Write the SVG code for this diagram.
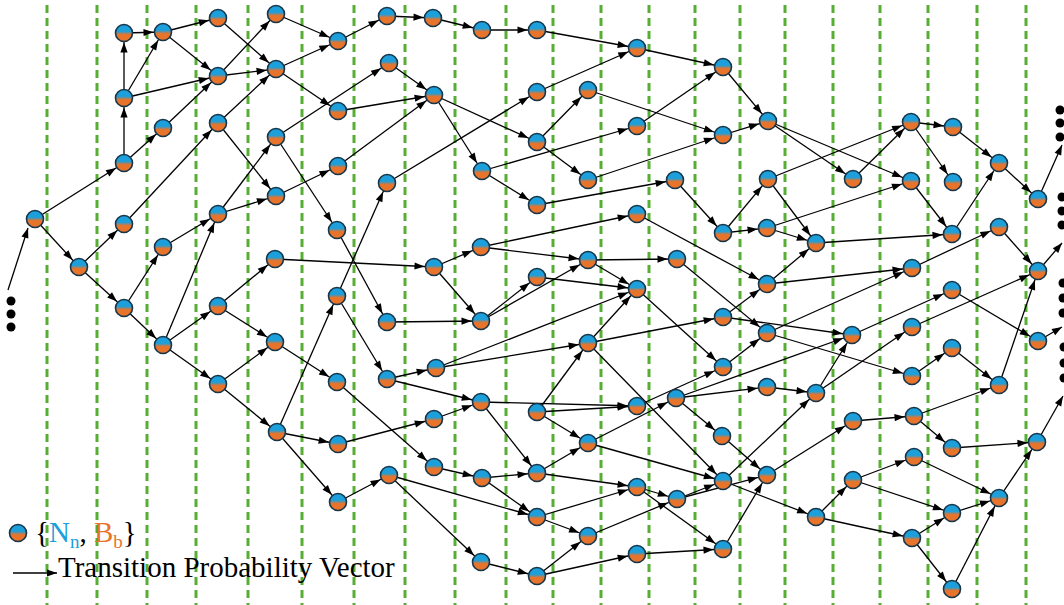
<svg xmlns="http://www.w3.org/2000/svg" width="1064" height="605" viewBox="0 0 1064 605">
<style>
.grid line{stroke:#56ae34;stroke-width:3;stroke-dasharray:8 5}
.edges line{stroke:#000;stroke-width:1.3;marker-end:url(#a)}
.edges line.o{marker-end:url(#b)}
.node circle{fill:url(#g);stroke:#17364a;stroke-width:1.6}
.dot{fill:#000}
.lbl{font-family:"Liberation Serif","Times New Roman",serif;font-size:29px;fill:#000}
</style>
<defs>
<linearGradient id="g" x1="0" y1="0" x2="0" y2="1">
<stop offset="0" stop-color="#1c9fda"/><stop offset="0.4" stop-color="#1c9fda"/><stop offset="0.6" stop-color="#e8742c"/><stop offset="1" stop-color="#e8742c"/>
</linearGradient>
<marker id="a" markerUnits="userSpaceOnUse" viewBox="0 -5 22 10" markerWidth="22" markerHeight="10" refX="19.5" refY="0" orient="auto" overflow="visible"><path d="M0,-3.6 L10,0 L0,3.6 z" fill="#000"/></marker>
<marker id="b" markerUnits="userSpaceOnUse" viewBox="0 -5 22 10" markerWidth="22" markerHeight="10" refX="10" refY="0" orient="auto" overflow="visible"><path d="M0,-3.6 L10,0 L0,3.6 z" fill="#000"/></marker>
</defs>
<rect width="1064" height="605" fill="#fff"/>
<g class="grid">
<line x1="47" y1="5" x2="47" y2="605"/><line x1="97" y1="5" x2="97" y2="605"/><line x1="147" y1="5" x2="147" y2="605"/><line x1="196" y1="5" x2="196" y2="605"/><line x1="248" y1="5" x2="248" y2="605"/><line x1="302" y1="5" x2="302" y2="605"/><line x1="354" y1="5" x2="354" y2="605"/><line x1="405" y1="5" x2="405" y2="605"/><line x1="455" y1="5" x2="455" y2="605"/><line x1="506" y1="5" x2="506" y2="605"/><line x1="553" y1="5" x2="553" y2="605"/><line x1="601" y1="5" x2="601" y2="605"/><line x1="649" y1="5" x2="649" y2="605"/><line x1="695" y1="5" x2="695" y2="605"/><line x1="740" y1="5" x2="740" y2="605"/><line x1="785" y1="5" x2="785" y2="605"/><line x1="833" y1="5" x2="833" y2="605"/><line x1="880" y1="5" x2="880" y2="605"/><line x1="928" y1="5" x2="928" y2="605"/><line x1="977" y1="5" x2="977" y2="605"/><line x1="1026" y1="5" x2="1026" y2="605"/>
</g>
<g id="connectors" class="edges">
<line class="o" x1="8" y1="290" x2="28" y2="228"/>
<line x1="35" y1="219" x2="124" y2="163"/><line x1="35" y1="219" x2="79" y2="267"/>
<line x1="79" y1="267" x2="124" y2="224"/><line x1="79" y1="267" x2="124" y2="308"/>
<line x1="124" y1="33" x2="163" y2="32"/>
<line x1="124" y1="98" x2="124" y2="33"/><line x1="124" y1="98" x2="163" y2="32"/><line x1="124" y1="98" x2="218" y2="76"/>
<line x1="124" y1="163" x2="124" y2="98"/><line x1="124" y1="163" x2="163" y2="128"/>
<line x1="124" y1="224" x2="218" y2="123"/>
<line x1="124" y1="308" x2="163" y2="247"/><line x1="124" y1="308" x2="163" y2="345"/>
<line x1="163" y1="32" x2="218" y2="18"/><line x1="163" y1="32" x2="218" y2="76"/>
<line x1="163" y1="128" x2="218" y2="76"/>
<line x1="163" y1="247" x2="218" y2="214"/>
<line x1="163" y1="345" x2="218" y2="214"/><line x1="163" y1="345" x2="218" y2="306"/><line x1="163" y1="345" x2="218" y2="384"/>
<line x1="218" y1="18" x2="276" y2="69"/>
<line x1="218" y1="76" x2="276" y2="14"/><line x1="218" y1="76" x2="276" y2="69"/>
<line x1="218" y1="123" x2="276" y2="69"/><line x1="218" y1="123" x2="276" y2="196"/>
<line x1="218" y1="214" x2="276" y2="196"/><line x1="218" y1="214" x2="276" y2="137"/>
<line x1="218" y1="306" x2="275" y2="259"/><line x1="218" y1="306" x2="275" y2="342"/>
<line x1="218" y1="384" x2="275" y2="342"/><line x1="218" y1="384" x2="277" y2="432"/>
<line x1="276" y1="14" x2="338" y2="41"/>
<line x1="276" y1="69" x2="338" y2="41"/><line x1="276" y1="69" x2="338" y2="111"/>
<line x1="276" y1="137" x2="389" y2="63"/><line x1="276" y1="137" x2="337" y2="230"/>
<line x1="276" y1="196" x2="338" y2="166"/>
<line x1="275" y1="259" x2="434" y2="267"/>
<line x1="275" y1="342" x2="337" y2="382"/>
<line x1="277" y1="432" x2="338" y2="444"/><line x1="277" y1="432" x2="338" y2="502"/><line x1="277" y1="432" x2="337" y2="296"/>
<line x1="338" y1="41" x2="387" y2="16"/>
<line x1="338" y1="111" x2="434" y2="95"/>
<line x1="338" y1="166" x2="434" y2="95"/>
<line x1="337" y1="230" x2="387" y2="322"/>
<line x1="337" y1="296" x2="387" y2="183"/><line x1="337" y1="296" x2="387" y2="379"/>
<line x1="337" y1="382" x2="434" y2="467"/>
<line x1="338" y1="444" x2="434" y2="419"/>
<line x1="338" y1="502" x2="389" y2="475"/>
<line x1="387" y1="16" x2="433" y2="18"/>
<line x1="389" y1="63" x2="434" y2="95"/>
<line x1="387" y1="183" x2="537" y2="92"/>
<line x1="387" y1="322" x2="481" y2="321"/>
<line x1="387" y1="379" x2="436" y2="368"/><line x1="387" y1="379" x2="481" y2="402"/>
<line x1="389" y1="475" x2="537" y2="517"/><line x1="389" y1="475" x2="481" y2="562"/>
<line x1="433" y1="18" x2="482" y2="30"/>
<line x1="434" y1="95" x2="482" y2="171"/><line x1="434" y1="95" x2="537" y2="142"/>
<line x1="434" y1="267" x2="481" y2="247"/><line x1="434" y1="267" x2="481" y2="321"/>
<line x1="436" y1="368" x2="637" y2="289"/><line x1="436" y1="368" x2="588" y2="343"/>
<line x1="434" y1="419" x2="481" y2="402"/>
<line x1="434" y1="467" x2="482" y2="478"/>
<line x1="482" y1="30" x2="537" y2="30"/>
<line x1="482" y1="171" x2="637" y2="126"/><line x1="482" y1="171" x2="537" y2="205"/>
<line x1="481" y1="247" x2="637" y2="214"/><line x1="481" y1="247" x2="588" y2="260"/>
<line x1="481" y1="321" x2="537" y2="277"/><line x1="481" y1="321" x2="588" y2="260"/>
<line x1="481" y1="402" x2="537" y2="473"/><line x1="481" y1="402" x2="637" y2="406"/>
<line x1="482" y1="478" x2="537" y2="473"/><line x1="482" y1="478" x2="537" y2="517"/>
<line x1="481" y1="562" x2="537" y2="576"/>
<line x1="537" y1="30" x2="637" y2="48"/>
<line x1="537" y1="92" x2="637" y2="48"/>
<line x1="537" y1="142" x2="588" y2="90"/><line x1="537" y1="142" x2="588" y2="180"/>
<line x1="537" y1="205" x2="675" y2="180"/>
<line x1="537" y1="277" x2="637" y2="289"/>
<line x1="537" y1="412" x2="637" y2="406"/><line x1="537" y1="412" x2="588" y2="443"/><line x1="537" y1="412" x2="588" y2="343"/>
<line x1="537" y1="473" x2="637" y2="487"/><line x1="537" y1="473" x2="588" y2="443"/>
<line x1="537" y1="517" x2="637" y2="487"/><line x1="537" y1="517" x2="588" y2="536"/>
<line x1="537" y1="576" x2="588" y2="536"/><line x1="537" y1="576" x2="637" y2="554"/>
<line x1="588" y1="90" x2="723" y2="135"/>
<line x1="588" y1="180" x2="723" y2="135"/>
<line x1="588" y1="260" x2="677" y2="259"/><line x1="588" y1="260" x2="637" y2="289"/>
<line x1="588" y1="343" x2="637" y2="289"/><line x1="588" y1="343" x2="723" y2="317"/><line x1="588" y1="343" x2="723" y2="481"/>
<line x1="588" y1="443" x2="676" y2="398"/><line x1="588" y1="443" x2="723" y2="481"/>
<line x1="588" y1="536" x2="677" y2="499"/>
<line x1="637" y1="48" x2="723" y2="67"/>
<line x1="637" y1="126" x2="723" y2="67"/>
<line x1="637" y1="214" x2="767" y2="284"/>
<line x1="637" y1="289" x2="723" y2="367"/>
<line x1="637" y1="406" x2="723" y2="367"/>
<line x1="637" y1="487" x2="677" y2="499"/><line x1="637" y1="487" x2="723" y2="549"/>
<line x1="637" y1="554" x2="723" y2="549"/>
<line x1="675" y1="180" x2="723" y2="233"/>
<line x1="677" y1="259" x2="767" y2="333"/>
<line x1="676" y1="398" x2="722" y2="436"/><line x1="676" y1="398" x2="767" y2="387"/><line x1="676" y1="398" x2="852" y2="335"/>
<line x1="677" y1="499" x2="723" y2="481"/><line x1="677" y1="499" x2="767" y2="475"/>
<line x1="723" y1="67" x2="768" y2="121"/>
<line x1="723" y1="135" x2="768" y2="121"/>
<line x1="723" y1="233" x2="767" y2="228"/><line x1="723" y1="233" x2="768" y2="179"/>
<line x1="723" y1="317" x2="767" y2="284"/><line x1="723" y1="317" x2="852" y2="335"/>
<line x1="723" y1="367" x2="767" y2="333"/>
<line x1="722" y1="436" x2="767" y2="475"/>
<line x1="723" y1="481" x2="816" y2="393"/><line x1="723" y1="481" x2="816" y2="517"/>
<line x1="723" y1="549" x2="767" y2="475"/>
<line x1="768" y1="121" x2="853" y2="179"/><line x1="768" y1="121" x2="911" y2="181"/>
<line x1="768" y1="179" x2="816" y2="243"/><line x1="768" y1="179" x2="911" y2="122"/>
<line x1="767" y1="228" x2="911" y2="181"/><line x1="767" y1="228" x2="816" y2="243"/>
<line x1="767" y1="284" x2="816" y2="243"/><line x1="767" y1="284" x2="912" y2="268"/>
<line x1="767" y1="333" x2="912" y2="268"/><line x1="767" y1="333" x2="912" y2="376"/>
<line x1="767" y1="387" x2="816" y2="393"/>
<line x1="767" y1="475" x2="853" y2="421"/>
<line x1="816" y1="243" x2="952" y2="234"/>
<line x1="816" y1="393" x2="852" y2="335"/><line x1="816" y1="393" x2="912" y2="327"/>
<line x1="816" y1="517" x2="853" y2="480"/><line x1="816" y1="517" x2="912" y2="538"/>
<line x1="853" y1="179" x2="911" y2="122"/>
<line x1="852" y1="335" x2="952" y2="290"/>
<line x1="853" y1="421" x2="914" y2="416"/>
<line x1="853" y1="480" x2="914" y2="457"/><line x1="853" y1="480" x2="952" y2="513"/>
<line x1="911" y1="122" x2="953" y2="127"/><line x1="911" y1="122" x2="953" y2="182"/>
<line x1="911" y1="181" x2="952" y2="234"/>
<line x1="912" y1="268" x2="999" y2="227"/>
<line x1="912" y1="327" x2="1038" y2="271"/>
<line x1="912" y1="376" x2="952" y2="348"/>
<line x1="914" y1="416" x2="952" y2="448"/><line x1="914" y1="416" x2="999" y2="385"/>
<line x1="914" y1="457" x2="999" y2="498"/>
<line x1="912" y1="538" x2="952" y2="513"/><line x1="912" y1="538" x2="952" y2="589"/>
<line x1="953" y1="127" x2="999" y2="163"/>
<line x1="952" y1="234" x2="999" y2="163"/>
<line x1="952" y1="290" x2="1038" y2="341"/>
<line x1="952" y1="348" x2="999" y2="385"/>
<line x1="952" y1="448" x2="1037" y2="442"/>
<line x1="952" y1="513" x2="999" y2="498"/>
<line x1="952" y1="589" x2="999" y2="498"/>
<line x1="999" y1="163" x2="1038" y2="199"/>
<line x1="999" y1="227" x2="1038" y2="271"/>
<line x1="999" y1="385" x2="1038" y2="271"/>
<line x1="999" y1="498" x2="1037" y2="442"/>
<line class="o" x1="1038" y1="199" x2="1062" y2="145"/>
<line class="o" x1="1038" y1="271" x2="1062" y2="243"/>
<line class="o" x1="1038" y1="341" x2="1062" y2="327"/>
<line class="o" x1="1037" y1="442" x2="1063" y2="396"/>
</g>
<g id="ellipsis-left"><circle class="dot" cx="11" cy="301" r="4.5"/><circle class="dot" cx="11" cy="314" r="4.5"/><circle class="dot" cx="11" cy="327" r="4.5"/></g>
<g id="ellipsis-right">
<circle class="dot" cx="1060" cy="110" r="4.5"/><circle class="dot" cx="1060" cy="123" r="4.5"/><circle class="dot" cx="1060" cy="137" r="4.5"/>
<circle class="dot" cx="1062" cy="197" r="4.5"/><circle class="dot" cx="1062" cy="211" r="4.5"/><circle class="dot" cx="1062" cy="225" r="4.5"/>
<circle class="dot" cx="1063" cy="283" r="4.5"/><circle class="dot" cx="1063" cy="298" r="4.5"/><circle class="dot" cx="1063" cy="313" r="4.5"/>
<circle class="dot" cx="1064" cy="347" r="4.5"/><circle class="dot" cx="1064" cy="363" r="4.5"/><circle class="dot" cx="1064" cy="378" r="4.5"/>
</g>
<g id="nodes">
<g id="n01" class="node"><circle cx="35" cy="219" r="8.5"/></g>
<g id="n02" class="node"><circle cx="79" cy="267" r="8.5"/></g>
<g id="n03" class="node"><circle cx="124" cy="33" r="8.5"/></g>
<g id="n04" class="node"><circle cx="124" cy="98" r="8.5"/></g>
<g id="n05" class="node"><circle cx="124" cy="163" r="8.5"/></g>
<g id="n06" class="node"><circle cx="124" cy="224" r="8.5"/></g>
<g id="n07" class="node"><circle cx="124" cy="308" r="8.5"/></g>
<g id="n08" class="node"><circle cx="163" cy="32" r="8.5"/></g>
<g id="n09" class="node"><circle cx="163" cy="128" r="8.5"/></g>
<g id="n10" class="node"><circle cx="163" cy="247" r="8.5"/></g>
<g id="n11" class="node"><circle cx="163" cy="345" r="8.5"/></g>
<g id="n12" class="node"><circle cx="218" cy="18" r="8.5"/></g>
<g id="n13" class="node"><circle cx="218" cy="76" r="8.5"/></g>
<g id="n14" class="node"><circle cx="218" cy="123" r="8.5"/></g>
<g id="n15" class="node"><circle cx="218" cy="214" r="8.5"/></g>
<g id="n16" class="node"><circle cx="218" cy="306" r="8.5"/></g>
<g id="n17" class="node"><circle cx="218" cy="384" r="8.5"/></g>
<g id="n18" class="node"><circle cx="276" cy="14" r="8.5"/></g>
<g id="n19" class="node"><circle cx="276" cy="69" r="8.5"/></g>
<g id="n20" class="node"><circle cx="276" cy="137" r="8.5"/></g>
<g id="n21" class="node"><circle cx="276" cy="196" r="8.5"/></g>
<g id="n22" class="node"><circle cx="275" cy="259" r="8.5"/></g>
<g id="n23" class="node"><circle cx="275" cy="342" r="8.5"/></g>
<g id="n24" class="node"><circle cx="277" cy="432" r="8.5"/></g>
<g id="n25" class="node"><circle cx="338" cy="41" r="8.5"/></g>
<g id="n26" class="node"><circle cx="338" cy="111" r="8.5"/></g>
<g id="n27" class="node"><circle cx="338" cy="166" r="8.5"/></g>
<g id="n28" class="node"><circle cx="337" cy="230" r="8.5"/></g>
<g id="n29" class="node"><circle cx="337" cy="296" r="8.5"/></g>
<g id="n30" class="node"><circle cx="337" cy="382" r="8.5"/></g>
<g id="n31" class="node"><circle cx="338" cy="444" r="8.5"/></g>
<g id="n32" class="node"><circle cx="338" cy="502" r="8.5"/></g>
<g id="n33" class="node"><circle cx="387" cy="16" r="8.5"/></g>
<g id="n34" class="node"><circle cx="389" cy="63" r="8.5"/></g>
<g id="n35" class="node"><circle cx="387" cy="183" r="8.5"/></g>
<g id="n36" class="node"><circle cx="387" cy="322" r="8.5"/></g>
<g id="n37" class="node"><circle cx="387" cy="379" r="8.5"/></g>
<g id="n38" class="node"><circle cx="389" cy="475" r="8.5"/></g>
<g id="n39" class="node"><circle cx="433" cy="18" r="8.5"/></g>
<g id="n40" class="node"><circle cx="434" cy="95" r="8.5"/></g>
<g id="n41" class="node"><circle cx="434" cy="267" r="8.5"/></g>
<g id="n42" class="node"><circle cx="436" cy="368" r="8.5"/></g>
<g id="n43" class="node"><circle cx="434" cy="419" r="8.5"/></g>
<g id="n44" class="node"><circle cx="434" cy="467" r="8.5"/></g>
<g id="n45" class="node"><circle cx="482" cy="30" r="8.5"/></g>
<g id="n46" class="node"><circle cx="482" cy="171" r="8.5"/></g>
<g id="n47" class="node"><circle cx="481" cy="247" r="8.5"/></g>
<g id="n48" class="node"><circle cx="481" cy="321" r="8.5"/></g>
<g id="n49" class="node"><circle cx="481" cy="402" r="8.5"/></g>
<g id="n50" class="node"><circle cx="482" cy="478" r="8.5"/></g>
<g id="n51" class="node"><circle cx="481" cy="562" r="8.5"/></g>
<g id="n52" class="node"><circle cx="537" cy="30" r="8.5"/></g>
<g id="n53" class="node"><circle cx="537" cy="92" r="8.5"/></g>
<g id="n54" class="node"><circle cx="537" cy="142" r="8.5"/></g>
<g id="n55" class="node"><circle cx="537" cy="205" r="8.5"/></g>
<g id="n56" class="node"><circle cx="537" cy="277" r="8.5"/></g>
<g id="n57" class="node"><circle cx="537" cy="412" r="8.5"/></g>
<g id="n58" class="node"><circle cx="537" cy="473" r="8.5"/></g>
<g id="n59" class="node"><circle cx="537" cy="517" r="8.5"/></g>
<g id="n60" class="node"><circle cx="537" cy="576" r="8.5"/></g>
<g id="n61" class="node"><circle cx="588" cy="90" r="8.5"/></g>
<g id="n62" class="node"><circle cx="588" cy="180" r="8.5"/></g>
<g id="n63" class="node"><circle cx="588" cy="260" r="8.5"/></g>
<g id="n64" class="node"><circle cx="588" cy="343" r="8.5"/></g>
<g id="n65" class="node"><circle cx="588" cy="443" r="8.5"/></g>
<g id="n66" class="node"><circle cx="588" cy="536" r="8.5"/></g>
<g id="n67" class="node"><circle cx="637" cy="48" r="8.5"/></g>
<g id="n68" class="node"><circle cx="637" cy="126" r="8.5"/></g>
<g id="n69" class="node"><circle cx="637" cy="214" r="8.5"/></g>
<g id="n70" class="node"><circle cx="637" cy="289" r="8.5"/></g>
<g id="n71" class="node"><circle cx="637" cy="406" r="8.5"/></g>
<g id="n72" class="node"><circle cx="637" cy="487" r="8.5"/></g>
<g id="n73" class="node"><circle cx="637" cy="554" r="8.5"/></g>
<g id="n74" class="node"><circle cx="675" cy="180" r="8.5"/></g>
<g id="n75" class="node"><circle cx="677" cy="259" r="8.5"/></g>
<g id="n76" class="node"><circle cx="676" cy="398" r="8.5"/></g>
<g id="n77" class="node"><circle cx="677" cy="499" r="8.5"/></g>
<g id="n78" class="node"><circle cx="723" cy="67" r="8.5"/></g>
<g id="n79" class="node"><circle cx="723" cy="135" r="8.5"/></g>
<g id="n80" class="node"><circle cx="723" cy="233" r="8.5"/></g>
<g id="n81" class="node"><circle cx="723" cy="317" r="8.5"/></g>
<g id="n82" class="node"><circle cx="723" cy="367" r="8.5"/></g>
<g id="n83" class="node"><circle cx="722" cy="436" r="8.5"/></g>
<g id="n84" class="node"><circle cx="723" cy="481" r="8.5"/></g>
<g id="n85" class="node"><circle cx="723" cy="549" r="8.5"/></g>
<g id="n86" class="node"><circle cx="768" cy="121" r="8.5"/></g>
<g id="n87" class="node"><circle cx="768" cy="179" r="8.5"/></g>
<g id="n88" class="node"><circle cx="767" cy="228" r="8.5"/></g>
<g id="n89" class="node"><circle cx="767" cy="284" r="8.5"/></g>
<g id="n90" class="node"><circle cx="767" cy="333" r="8.5"/></g>
<g id="n91" class="node"><circle cx="767" cy="387" r="8.5"/></g>
<g id="n92" class="node"><circle cx="767" cy="475" r="8.5"/></g>
<g id="n93" class="node"><circle cx="816" cy="243" r="8.5"/></g>
<g id="n94" class="node"><circle cx="816" cy="393" r="8.5"/></g>
<g id="n95" class="node"><circle cx="816" cy="517" r="8.5"/></g>
<g id="n96" class="node"><circle cx="853" cy="179" r="8.5"/></g>
<g id="n97" class="node"><circle cx="852" cy="335" r="8.5"/></g>
<g id="n98" class="node"><circle cx="853" cy="421" r="8.5"/></g>
<g id="n99" class="node"><circle cx="853" cy="480" r="8.5"/></g>
<g id="n100" class="node"><circle cx="911" cy="122" r="8.5"/></g>
<g id="n101" class="node"><circle cx="911" cy="181" r="8.5"/></g>
<g id="n102" class="node"><circle cx="912" cy="268" r="8.5"/></g>
<g id="n103" class="node"><circle cx="912" cy="327" r="8.5"/></g>
<g id="n104" class="node"><circle cx="912" cy="376" r="8.5"/></g>
<g id="n105" class="node"><circle cx="914" cy="416" r="8.5"/></g>
<g id="n106" class="node"><circle cx="914" cy="457" r="8.5"/></g>
<g id="n107" class="node"><circle cx="912" cy="538" r="8.5"/></g>
<g id="n108" class="node"><circle cx="953" cy="127" r="8.5"/></g>
<g id="n109" class="node"><circle cx="953" cy="182" r="8.5"/></g>
<g id="n110" class="node"><circle cx="952" cy="234" r="8.5"/></g>
<g id="n111" class="node"><circle cx="952" cy="290" r="8.5"/></g>
<g id="n112" class="node"><circle cx="952" cy="348" r="8.5"/></g>
<g id="n113" class="node"><circle cx="952" cy="448" r="8.5"/></g>
<g id="n114" class="node"><circle cx="952" cy="513" r="8.5"/></g>
<g id="n115" class="node"><circle cx="952" cy="589" r="8.5"/></g>
<g id="n116" class="node"><circle cx="999" cy="163" r="8.5"/></g>
<g id="n117" class="node"><circle cx="999" cy="227" r="8.5"/></g>
<g id="n118" class="node"><circle cx="999" cy="385" r="8.5"/></g>
<g id="n119" class="node"><circle cx="999" cy="498" r="8.5"/></g>
<g id="n120" class="node"><circle cx="1038" cy="199" r="8.5"/></g>
<g id="n121" class="node"><circle cx="1038" cy="271" r="8.5"/></g>
<g id="n122" class="node"><circle cx="1038" cy="341" r="8.5"/></g>
<g id="n123" class="node"><circle cx="1037" cy="442" r="8.5"/></g>
</g>
<g id="legend">
<g class="node"><circle cx="18" cy="533" r="8.5"/></g>
<text class="lbl" x="35" y="542">{<tspan fill="#1c9fda">N</tspan><tspan fill="#1c9fda" font-size="19" dy="6">n</tspan><tspan dy="-6">, </tspan><tspan fill="#e8742c">B</tspan><tspan fill="#e8742c" font-size="19" dy="6">b</tspan><tspan dy="-6">}</tspan></text>
<line x1="13" y1="573" x2="57" y2="573" stroke="#000" stroke-width="1.3" marker-end="url(#b)"/>
<text class="lbl" x="58" y="577">Transition Probability Vector</text>
</g>
</svg>
